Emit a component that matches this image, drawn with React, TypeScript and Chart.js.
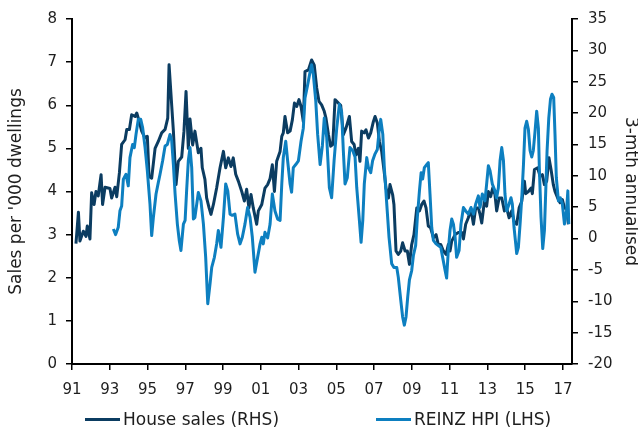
import React, { useEffect, useRef } from "react";
import { Chart, registerables } from "chart.js";

Chart.register(...registerables);

const tickYears = [1991, 1993, 1995, 1997, 1999, 2001, 2003, 2005, 2007, 2009, 2011, 2013, 2015, 2017];
const leftTicks = [0, 1, 2, 3, 4, 5, 6, 7, 8];
const rightTicks = [-20, -15, -10, -5, 0, 5, 10, 15, 20, 25, 30, 35];

const salesLabel = "House sales (RHS)";
const hpiLabel = "REINZ HPI (LHS)";

const salesYear = [
  1991.21, 1991.34, 1991.42, 1991.6, 1991.74, 1991.81, 1991.95, 1992.04, 1992.17, 1992.27, 1992.39, 1992.54, 1992.62, 1992.75,
  1993.01, 1993.1, 1993.28, 1993.37, 1993.51, 1993.63, 1993.81, 1993.9, 1994.04, 1994.16, 1994.34, 1994.43, 1994.51, 1994.69,
  1994.87, 1994.99, 1995.08, 1995.22, 1995.4, 1995.57, 1995.75, 1995.93, 1996.07, 1996.14, 1996.28, 1996.37, 1996.51, 1996.63,
  1996.81, 1996.93, 1997.04, 1997.16, 1997.25, 1997.39, 1997.51, 1997.69, 1997.83, 1997.9, 1998.04, 1998.13, 1998.26, 1998.36,
  1998.49, 1998.66, 1998.84, 1999.02, 1999.14, 1999.28, 1999.42, 1999.54, 1999.67, 1999.81, 1999.99, 2000.13, 2000.25, 2000.37,
  2000.48, 2000.6, 2000.78, 2000.87, 2001.05, 2001.22, 2001.36, 2001.49, 2001.61, 2001.72, 2001.84, 2002.02, 2002.11, 2002.19,
  2002.28, 2002.42, 2002.55, 2002.67, 2002.78, 2002.9, 2003.02, 2003.13, 2003.25, 2003.34, 2003.52, 2003.69, 2003.83, 2003.96,
  2004.08, 2004.22, 2004.36, 2004.45, 2004.58, 2004.7, 2004.81, 2004.93, 2005.11, 2005.23, 2005.37, 2005.51, 2005.69, 2005.81,
  2005.94, 2006.04, 2006.17, 2006.25, 2006.34, 2006.47, 2006.57, 2006.7, 2006.82, 2006.96, 2007.05, 2007.17, 2007.28, 2007.4,
  2007.53, 2007.63, 2007.76, 2007.84, 2007.98, 2008.05, 2008.16, 2008.28, 2008.41, 2008.51, 2008.64, 2008.76, 2008.87, 2008.99,
  2009.11, 2009.26, 2009.4, 2009.52, 2009.64, 2009.75, 2009.87, 2009.99, 2010.14, 2010.28, 2010.4, 2010.53, 2010.67, 2010.81,
  2010.93, 2011.02, 2011.11, 2011.29, 2011.46, 2011.64, 2011.73, 2011.85, 2011.99, 2012.13, 2012.26, 2012.38, 2012.52, 2012.61,
  2012.7, 2012.84, 2012.96, 2013.05, 2013.17, 2013.28, 2013.4, 2013.49, 2013.62, 2013.76, 2013.9, 2014.02, 2014.15, 2014.29,
  2014.41, 2014.55, 2014.68, 2014.82, 2014.96, 2015.03, 2015.17, 2015.31, 2015.38, 2015.49, 2015.66, 2015.79, 2015.91, 2016.02,
  2016.14, 2016.26, 2016.37, 2016.49, 2016.58, 2016.72, 2016.85, 2016.97, 2017.08, 2017.21, 2017.29,
];
const salesValue = [
  2.79, 3.52, 2.85, 3.08, 2.96, 3.2, 2.9, 3.97, 3.7, 4.0, 3.9, 4.39, 3.7, 4.1,
  4.07, 3.85, 4.1, 3.88, 4.43, 5.09, 5.2, 5.44, 5.44, 5.78, 5.74, 5.82, 5.7, 5.4,
  5.24, 5.28, 4.35, 4.31, 5.0, 5.16, 5.36, 5.44, 5.7, 6.94, 6.0, 5.4, 4.16, 4.7,
  4.8, 5.4, 6.32, 5.0, 5.68, 5.08, 5.4, 4.9, 5.0, 4.55, 4.28, 3.85, 3.62, 3.47,
  3.7, 4.08, 4.55, 4.93, 4.55, 4.78, 4.58, 4.78, 4.4, 4.24, 4.0, 3.78, 4.05, 3.62,
  3.93, 3.62, 3.24, 3.55, 3.7, 4.08, 4.16, 4.3, 4.62, 4.0, 4.7, 4.93, 5.28, 5.36,
  5.74, 5.36, 5.4, 5.66, 6.05, 5.97, 6.13, 5.97, 5.62, 6.78, 6.82, 7.05, 6.93, 6.4,
  6.09, 6.01, 5.86, 5.7, 5.32, 5.05, 5.09, 6.13, 6.05, 6.0, 5.32, 5.47, 5.74, 5.16,
  5.09, 4.85, 5.0, 4.7, 5.4, 5.36, 5.43, 5.24, 5.36, 5.62, 5.74, 5.59, 5.16, 4.93,
  4.47, 4.08, 3.85, 4.16, 3.93, 3.7, 2.62, 2.54, 2.62, 2.81, 2.62, 2.62, 2.31, 2.77,
  3.0, 3.62, 3.55, 3.7, 3.78, 3.62, 3.2, 3.16, 2.93, 3.0, 2.77, 2.77, 2.62, 2.54,
  2.77, 2.62, 2.85, 3.0, 3.05, 3.05, 2.9, 3.24, 3.39, 3.58, 3.24, 3.62, 3.62, 3.47,
  3.27, 3.77, 3.66, 4.0, 3.88, 4.08, 3.93, 3.55, 3.85, 3.85, 3.55, 3.62, 3.39, 3.55,
  3.31, 3.24, 3.62, 3.77, 4.24, 3.95, 4.0, 4.08, 3.95, 4.51, 4.55, 4.35, 4.39, 4.16,
  4.24, 4.78, 4.51, 4.16, 4.0, 3.85, 3.74, 3.81, 3.62, 3.58, 3.24,
];

const hpiYear = [
  1993.19, 1993.31, 1993.45, 1993.54, 1993.63, 1993.72, 1993.86, 1993.98, 1994.07, 1994.21, 1994.3, 1994.39, 1994.51, 1994.64,
  1994.74, 1994.87, 1994.99, 1995.13, 1995.22, 1995.31, 1995.45, 1995.57, 1995.66, 1995.8, 1995.93, 1996.05, 1996.19, 1996.28,
  1996.37, 1996.46, 1996.58, 1996.68, 1996.77, 1996.9, 1996.99, 1997.07, 1997.16, 1997.25, 1997.34, 1997.43, 1997.51, 1997.69,
  1997.83, 1997.96, 1998.08, 1998.19, 1998.31, 1998.4, 1998.54, 1998.66, 1998.75, 1998.89, 1999.02, 1999.14, 1999.25, 1999.37,
  1999.49, 1999.63, 1999.77, 1999.9, 2000.02, 2000.16, 2000.3, 2000.43, 2000.55, 2000.69, 2000.83, 2000.96, 2001.05, 2001.13,
  2001.22, 2001.36, 2001.49, 2001.61, 2001.75, 2001.89, 2002.02, 2002.11, 2002.19, 2002.32, 2002.42, 2002.55, 2002.63, 2002.72,
  2002.85, 2002.99, 2003.13, 2003.25, 2003.34, 2003.48, 2003.61, 2003.69, 2003.78, 2003.91, 2004.01, 2004.14, 2004.26, 2004.36,
  2004.49, 2004.63, 2004.75, 2004.88, 2005.02, 2005.16, 2005.28, 2005.37, 2005.46, 2005.58, 2005.72, 2005.87, 2005.99, 2006.08,
  2006.22, 2006.31, 2006.4, 2006.48, 2006.61, 2006.7, 2006.82, 2006.92, 2007.05, 2007.17, 2007.28, 2007.35, 2007.46, 2007.54,
  2007.67, 2007.79, 2007.93, 2008.05, 2008.2, 2008.28, 2008.41, 2008.51, 2008.6, 2008.69, 2008.78, 2008.87, 2008.99, 2009.08,
  2009.2, 2009.29, 2009.4, 2009.49, 2009.57, 2009.66, 2009.79, 2009.87, 2009.96, 2010.05, 2010.14, 2010.28, 2010.4, 2010.53,
  2010.63, 2010.76, 2010.84, 2010.93, 2011.02, 2011.11, 2011.2, 2011.29, 2011.37, 2011.5, 2011.6, 2011.73, 2011.85, 2011.99,
  2012.13, 2012.26, 2012.38, 2012.52, 2012.61, 2012.73, 2012.87, 2012.96, 2013.05, 2013.14, 2013.26, 2013.4, 2013.49, 2013.58,
  2013.67, 2013.76, 2013.85, 2013.93, 2014.02, 2014.15, 2014.25, 2014.32, 2014.41, 2014.5, 2014.55, 2014.64, 2014.73, 2014.82,
  2014.91, 2014.99, 2015.08, 2015.17, 2015.26, 2015.35, 2015.43, 2015.52, 2015.61, 2015.7, 2015.75, 2015.84, 2015.93, 2016.02,
  2016.09, 2016.16, 2016.25, 2016.34, 2016.42, 2016.51, 2016.58, 2016.65, 2016.76, 2016.86, 2016.97, 2017.08, 2017.19, 2017.26,
  2017.31,
];
const hpiValue = [
  1.53, 0.63, 1.8, 4.43, 5.2, 9.46, 10.25, 8.4, 12.9, 15.0, 14.5, 16.6, 19.0, 19.0,
  17.7, 14.5, 10.8, 5.5, 0.47, 3.37, 7.1, 8.92, 10.2, 12.4, 14.75, 15.0, 16.6, 15.6,
  11.8, 7.1, 2.3, -0.3, -1.9, 2.3, 2.9, 7.6, 12.4, 14.5, 11.3, 3.1, 3.37, 7.35,
  6.0, 2.3, -3.0, -10.4, -7.2, -4.6, -3.0, -0.85, 1.3, -1.4, 3.37, 8.7, 7.6, 3.9,
  3.7, 3.9, 0.74, -0.85, 0.2, 2.3, 4.95, 3.37, 0.2, -5.36, -3.0, -0.85, 0.2, -0.85,
  1.0, 0.1, 2.3, 7.1, 4.4, 3.1, 2.9, 8.7, 12.9, 15.5, 12.4, 8.7, 7.4, 11.3,
  11.8, 12.4, 15.5, 17.6, 22.4, 24.5, 26.6, 27.7, 26.2, 21.9, 16.6, 11.8, 14.8, 19.2,
  16.1, 8.1, 6.5, 12.4, 17.6, 21.4, 20.2, 14.0, 8.7, 9.7, 14.5, 14.0, 13.0, 8.1,
  2.9, -0.6, 2.9, 8.7, 12.9, 11.3, 10.5, 12.4, 13.5, 14.2, 17.6, 19.0, 16.6, 11.3,
  5.5, 0.2, -4.0, -4.6, -4.6, -6.15, -9.8, -12.5, -13.8, -12.5, -9.3, -6.6, -5.1, -2.7,
  -1.1, 3.4, 7.6, 10.5, 9.5, 11.3, 11.8, 12.1, 7.1, 1.8, -0.3, -0.85, -1.1, -1.4,
  -3.0, -5.1, -6.3, -1.9, 1.3, 3.1, 2.3, 0.2, -3.0, -1.9, 2.3, 4.95, 4.4, 3.9,
  4.95, 3.9, 5.5, 6.8, 4.95, 7.1, 6.0, 8.7, 11.6, 10.8, 8.7, 7.6, 6.5, 8.1,
  12.4, 14.5, 12.4, 7.1, 4.4, 5.5, 6.5, 5.5, 1.8, -0.85, -2.4, -1.4, 2.3, 6.5,
  11.8, 17.6, 18.7, 17.4, 14.0, 13.0, 14.0, 17.0, 20.3, 17.6, 11.3, 3.4, -1.6, 1.3,
  7.6, 14.0, 19.2, 22.2, 23.0, 22.5, 16.6, 9.7, 6.0, 6.5, 5.5, 2.3, 4.4, 7.6,
  2.3,
];

const DARK = "#0b3c61";
const LIGHT = "#0d7fc0";
const TEXT = "#1e1e1e";
const FONT = "'DejaVu Sans', Verdana, sans-serif";

export default function App() {
  const canvasRef = useRef<HTMLCanvasElement | null>(null);

  useEffect(() => {
    document.body.style.margin = "0";
    const canvas = canvasRef.current;
    if (!canvas) return;
    const salesData = salesYear.map((x, i) => ({ x, y: salesValue[i] }));
    const hpiData = hpiYear.map((x, i) => ({ x, y: hpiValue[i] }));
    const tickColor = "#000";
    const chart = new Chart(canvas, {
      type: "line",
      data: {
        datasets: [
          {
            label: salesLabel,
            data: salesData,
            yAxisID: "y",
            borderColor: DARK,
            backgroundColor: DARK,
            borderWidth: 3,
            pointRadius: 0,
            tension: 0,
            borderJoinStyle: "round",
            order: 2,
          },
          {
            label: hpiLabel,
            data: hpiData,
            yAxisID: "y1",
            borderColor: LIGHT,
            backgroundColor: LIGHT,
            borderWidth: 3,
            pointRadius: 0,
            tension: 0,
            borderJoinStyle: "round",
            order: 1,
          },
        ],
      },
      options: {
        responsive: false,
        animation: false,
        devicePixelRatio: 1,
        layout: { padding: { top: 17, left: 0, right: 0, bottom: 0 } },
        plugins: {
          legend: { display: false },
          tooltip: { enabled: false },
        },
        scales: {
          x: {
            type: "linear",
            min: 1991,
            max: 2017.48,
            afterBuildTicks: (s: any) => {
              s.ticks = tickYears.map((v) => ({ value: v }));
            },
            afterFit: (s: any) => {
              s.height = 66;
            },
            ticks: {
              autoSkip: false,
              maxRotation: 0,
              padding: 11,
              color: TEXT,
              font: { family: FONT, size: 15 },
              callback: (v: any) => String(v).slice(2),
            },
            grid: {
              display: true,
              drawOnChartArea: false,
              drawTicks: true,
              tickLength: 6,
              color: tickColor,
              lineWidth: 1.5,
            },
            border: { display: true, color: "#000", width: 2 },
          },
          y: {
            type: "linear",
            position: "left",
            min: 0,
            max: 8,
            afterBuildTicks: (s: any) => {
              s.ticks = leftTicks.map((v) => ({ value: v }));
            },
            afterFit: (s: any) => {
              s.width = 72;
            },
            ticks: {
              padding: 9,
              color: TEXT,
              font: { family: FONT, size: 15 },
            },
            grid: {
              display: true,
              drawOnChartArea: false,
              drawTicks: true,
              tickLength: 6,
              color: tickColor,
              lineWidth: 1.5,
            },
            border: { display: true, color: "#000", width: 2 },
            title: {
              display: true,
              text: "Sales per '000 dwellings",
              color: TEXT,
              font: { family: FONT, size: 17 },
              padding: { top: 6, bottom: 0 },
            },
          },
          y1: {
            type: "linear",
            position: "right",
            min: -20,
            max: 35,
            afterBuildTicks: (s: any) => {
              s.ticks = rightTicks.map((v) => ({ value: v }));
            },
            afterFit: (s: any) => {
              s.width = 66;
            },
            ticks: {
              padding: 10,
              color: TEXT,
              font: { family: FONT, size: 15 },
            },
            grid: {
              display: true,
              drawOnChartArea: false,
              drawTicks: true,
              tickLength: 6,
              color: tickColor,
              lineWidth: 1.5,
            },
            border: { display: true, color: "#000", width: 2 },
            title: {
              display: true,
              text: "3-mth annualised",
              color: TEXT,
              font: { family: FONT, size: 17 },
              padding: { top: -3, bottom: 0 },
            },
          },
        },
      },
    });
    return () => chart.destroy();
  }, []);

  const legendText: React.CSSProperties = {
    position: "absolute",
    top: 409,
    fontFamily: FONT,
    fontSize: 17,
    color: TEXT,
    lineHeight: "20px",
    whiteSpace: "nowrap",
  };
  const legendLine = (color: string, left: number): React.CSSProperties => ({
    position: "absolute",
    left,
    top: 418,
    width: 35,
    height: 3,
    background: color,
  });

  return (
    <div style={{ position: "absolute", left: 0, top: 0, width: 638, height: 430, background: "#fff", overflow: "hidden" }}>
      <canvas ref={canvasRef} width={638} height={430} style={{ position: "absolute", left: 0, top: 0, width: 638, height: 430 }} />
      <div style={legendLine(DARK, 85)} />
      <div style={{ ...legendText, left: 123 }}>{salesLabel}</div>
      <div style={legendLine(LIGHT, 376)} />
      <div style={{ ...legendText, left: 414 }}>{hpiLabel}</div>
    </div>
  );
}
